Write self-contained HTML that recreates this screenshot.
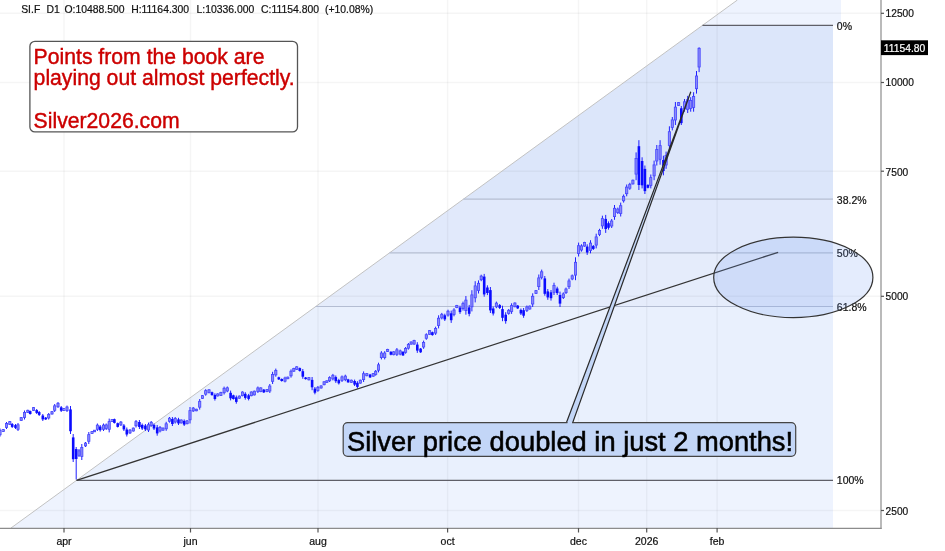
<!DOCTYPE html>
<html><head><meta charset="utf-8"><style>html,body{margin:0;padding:0;background:#fff;width:945px;height:551px;overflow:hidden;position:relative;font-family:"Liberation Sans", sans-serif}</style></head>
<body>
<svg width="945" height="551" viewBox="0 0 945 551" style="position:absolute;left:0;top:0;will-change:transform">
<rect width="945" height="551" fill="#ffffff"/>
<polygon points="737.40,0.00 841,0.00 841,25.40 702.46,25.40" fill="#eef3fe"/>
<polygon points="702.46,25.40 833,25.40 833,199.17 463.39,199.17" fill="#dce6fa"/>
<polygon points="463.39,199.17 833,199.17 833,252.85 389.54,252.85" fill="#e1e9fb"/>
<polygon points="389.54,252.85 833,252.85 833,306.53 315.69,306.53" fill="#e5ecfb"/>
<polygon points="315.69,306.53 833,306.53 833,480.30 76.62,480.30" fill="#e9f0fd"/>
<polygon points="76.62,480.30 833,480.30 833,528.00 11.00,528.00" fill="#eef3fe"/>
<line x1="64" y1="0" x2="64" y2="528" stroke="#000" stroke-opacity="0.04" stroke-width="1.5"/>
<line x1="190.5" y1="0" x2="190.5" y2="528" stroke="#000" stroke-opacity="0.04" stroke-width="1.5"/>
<line x1="318" y1="0" x2="318" y2="528" stroke="#000" stroke-opacity="0.04" stroke-width="1.5"/>
<line x1="447.6" y1="0" x2="447.6" y2="528" stroke="#000" stroke-opacity="0.04" stroke-width="1.5"/>
<line x1="578.5" y1="0" x2="578.5" y2="528" stroke="#000" stroke-opacity="0.04" stroke-width="1.5"/>
<line x1="646.7" y1="0" x2="646.7" y2="528" stroke="#000" stroke-opacity="0.04" stroke-width="1.5"/>
<line x1="717.1" y1="0" x2="717.1" y2="528" stroke="#000" stroke-opacity="0.04" stroke-width="1.5"/>
<line x1="0" y1="13.3" x2="881" y2="13.3" stroke="#000" stroke-opacity="0.04" stroke-width="1.5"/>
<line x1="0" y1="82.5" x2="881" y2="82.5" stroke="#000" stroke-opacity="0.04" stroke-width="1.5"/>
<line x1="0" y1="171.2" x2="881" y2="171.2" stroke="#000" stroke-opacity="0.04" stroke-width="1.5"/>
<line x1="0" y1="296.3" x2="881" y2="296.3" stroke="#000" stroke-opacity="0.04" stroke-width="1.5"/>
<line x1="0" y1="510.5" x2="881" y2="510.5" stroke="#000" stroke-opacity="0.04" stroke-width="1.5"/>
<line x1="11" y1="528" x2="737.4" y2="0" stroke="#c2c2c2" stroke-width="1"/>
<line x1="702.46" y1="25.40" x2="833" y2="25.40" stroke="#5f5f68" stroke-width="1.3"/>
<line x1="463.39" y1="199.17" x2="833" y2="199.17" stroke="#b4bdd2" stroke-width="1.1"/>
<line x1="389.54" y1="252.85" x2="833" y2="252.85" stroke="#b4bdd2" stroke-width="1.1"/>
<line x1="315.69" y1="306.53" x2="833" y2="306.53" stroke="#b4bdd2" stroke-width="1.1"/>
<line x1="76.62" y1="480.30" x2="833" y2="480.30" stroke="#5f5f68" stroke-width="1.3"/>
<line x1="0" y1="528.3" x2="881.6" y2="528.3" stroke="#8c8c8c" stroke-width="1.2"/>
<line x1="881" y1="0" x2="881" y2="528.9" stroke="#8c8c8c" stroke-width="1.2"/>
<line x1="64" y1="528" x2="64" y2="532.5" stroke="#555" stroke-width="1.2"/>
<line x1="190.5" y1="528" x2="190.5" y2="532.5" stroke="#555" stroke-width="1.2"/>
<line x1="318" y1="528" x2="318" y2="532.5" stroke="#555" stroke-width="1.2"/>
<line x1="447.6" y1="528" x2="447.6" y2="532.5" stroke="#555" stroke-width="1.2"/>
<line x1="578.5" y1="528" x2="578.5" y2="532.5" stroke="#555" stroke-width="1.2"/>
<line x1="646.7" y1="528" x2="646.7" y2="532.5" stroke="#555" stroke-width="1.2"/>
<line x1="717.1" y1="528" x2="717.1" y2="532.5" stroke="#555" stroke-width="1.2"/>
<line x1="881" y1="13.3" x2="884" y2="13.3" stroke="#555" stroke-width="1.2"/>
<line x1="881" y1="82.5" x2="884" y2="82.5" stroke="#555" stroke-width="1.2"/>
<line x1="881" y1="171.2" x2="884" y2="171.2" stroke="#555" stroke-width="1.2"/>
<line x1="881" y1="296.3" x2="884" y2="296.3" stroke="#555" stroke-width="1.2"/>
<line x1="881" y1="510.5" x2="884" y2="510.5" stroke="#555" stroke-width="1.2"/>
<line x1="0.0" y1="428.5" x2="0.0" y2="436.6" stroke="#1f1fff" stroke-width="1"/>
<rect x="-1.1" y="430.3" width="2.2" height="4.5" fill="#8a8af6" stroke="#4444ff" stroke-width="0.8"/>
<line x1="3.3" y1="429.0" x2="3.3" y2="432.0" stroke="#1f1fff" stroke-width="1"/>
<rect x="2.2" y="429.6" width="2.2" height="1.8" fill="#8a8af6" stroke="#4444ff" stroke-width="0.8"/>
<line x1="6.5" y1="422.0" x2="6.5" y2="429.0" stroke="#1f1fff" stroke-width="1"/>
<rect x="5.4" y="423.5" width="2.2" height="3.9" fill="#8a8af6" stroke="#4444ff" stroke-width="0.8"/>
<line x1="9.8" y1="421.0" x2="9.8" y2="425.0" stroke="#1f1fff" stroke-width="1"/>
<rect x="8.7" y="421.6" width="2.2" height="2.8" fill="#8a8af6" stroke="#4444ff" stroke-width="0.8"/>
<line x1="12.2" y1="423.0" x2="12.2" y2="428.0" stroke="#1f1fff" stroke-width="1"/>
<rect x="10.9" y="424.1" width="2.6" height="2.8" fill="#0b0bff"/>
<line x1="15.5" y1="424.0" x2="15.5" y2="429.0" stroke="#1f1fff" stroke-width="1"/>
<rect x="14.2" y="425.1" width="2.6" height="2.8" fill="#0b0bff"/>
<line x1="18.0" y1="423.0" x2="18.0" y2="431.0" stroke="#1f1fff" stroke-width="1"/>
<rect x="16.9" y="424.8" width="2.2" height="4.5" fill="#8a8af6" stroke="#4444ff" stroke-width="0.8"/>
<line x1="21.2" y1="417.0" x2="21.2" y2="421.0" stroke="#1f1fff" stroke-width="1"/>
<rect x="20.1" y="417.6" width="2.2" height="2.8" fill="#8a8af6" stroke="#4444ff" stroke-width="0.8"/>
<line x1="24.5" y1="410.5" x2="24.5" y2="419.5" stroke="#1f1fff" stroke-width="1"/>
<rect x="23.4" y="412.5" width="2.2" height="5.0" fill="#8a8af6" stroke="#4444ff" stroke-width="0.8"/>
<line x1="27.8" y1="409.7" x2="27.8" y2="413.0" stroke="#1f1fff" stroke-width="1"/>
<rect x="26.7" y="410.3" width="2.2" height="2.1" fill="#8a8af6" stroke="#4444ff" stroke-width="0.8"/>
<line x1="30.2" y1="410.5" x2="30.2" y2="414.6" stroke="#1f1fff" stroke-width="1"/>
<rect x="28.9" y="411.1" width="2.6" height="2.9" fill="#0b0bff"/>
<line x1="33.5" y1="407.0" x2="33.5" y2="411.0" stroke="#1f1fff" stroke-width="1"/>
<rect x="32.4" y="407.6" width="2.2" height="2.8" fill="#8a8af6" stroke="#4444ff" stroke-width="0.8"/>
<line x1="36.7" y1="409.0" x2="36.7" y2="414.0" stroke="#1f1fff" stroke-width="1"/>
<rect x="35.4" y="410.1" width="2.6" height="2.8" fill="#0b0bff"/>
<line x1="39.2" y1="411.0" x2="39.2" y2="416.0" stroke="#1f1fff" stroke-width="1"/>
<rect x="37.9" y="412.1" width="2.6" height="2.8" fill="#0b0bff"/>
<line x1="42.8" y1="414.0" x2="42.8" y2="421.0" stroke="#1f1fff" stroke-width="1"/>
<rect x="41.5" y="415.5" width="2.6" height="3.9" fill="#0b0bff"/>
<line x1="45.7" y1="417.0" x2="45.7" y2="420.0" stroke="#1f1fff" stroke-width="1"/>
<rect x="44.4" y="417.6" width="2.6" height="1.8" fill="#0b0bff"/>
<line x1="48.7" y1="413.0" x2="48.7" y2="419.5" stroke="#1f1fff" stroke-width="1"/>
<rect x="47.6" y="414.4" width="2.2" height="3.6" fill="#8a8af6" stroke="#4444ff" stroke-width="0.8"/>
<line x1="52.0" y1="411.0" x2="52.0" y2="414.6" stroke="#1f1fff" stroke-width="1"/>
<rect x="50.9" y="411.6" width="2.2" height="2.4" fill="#8a8af6" stroke="#4444ff" stroke-width="0.8"/>
<line x1="54.7" y1="404.0" x2="54.7" y2="412.0" stroke="#1f1fff" stroke-width="1"/>
<rect x="53.6" y="405.8" width="2.2" height="4.5" fill="#8a8af6" stroke="#4444ff" stroke-width="0.8"/>
<line x1="58.0" y1="402.0" x2="58.0" y2="408.0" stroke="#1f1fff" stroke-width="1"/>
<rect x="56.9" y="403.3" width="2.2" height="3.4" fill="#8a8af6" stroke="#4444ff" stroke-width="0.8"/>
<line x1="61.2" y1="406.0" x2="61.2" y2="412.0" stroke="#1f1fff" stroke-width="1"/>
<rect x="59.9" y="407.3" width="2.6" height="3.4" fill="#0b0bff"/>
<line x1="63.7" y1="408.0" x2="63.7" y2="411.0" stroke="#1f1fff" stroke-width="1"/>
<rect x="62.6" y="408.6" width="2.2" height="1.8" fill="#8a8af6" stroke="#4444ff" stroke-width="0.8"/>
<line x1="67.0" y1="405.6" x2="67.0" y2="412.0" stroke="#1f1fff" stroke-width="1"/>
<rect x="65.9" y="407.0" width="2.2" height="3.6" fill="#8a8af6" stroke="#4444ff" stroke-width="0.8"/>
<line x1="70.5" y1="406.0" x2="70.5" y2="434.0" stroke="#1f1fff" stroke-width="1"/>
<rect x="69.2" y="409.4" width="2.6" height="21.8" fill="#0b0bff"/>
<line x1="73.2" y1="434.0" x2="73.2" y2="462.0" stroke="#1f1fff" stroke-width="1"/>
<rect x="71.9" y="437.4" width="2.6" height="21.8" fill="#0b0bff"/>
<line x1="76.2" y1="447.0" x2="76.2" y2="479.5" stroke="#1f1fff" stroke-width="1"/>
<rect x="74.9" y="449.0" width="2.6" height="10.0" fill="#0b0bff"/>
<line x1="79.0" y1="449.0" x2="79.0" y2="457.0" stroke="#1f1fff" stroke-width="1"/>
<rect x="77.9" y="450.8" width="2.2" height="4.5" fill="#8a8af6" stroke="#4444ff" stroke-width="0.8"/>
<line x1="81.8" y1="444.0" x2="81.8" y2="460.0" stroke="#1f1fff" stroke-width="1"/>
<rect x="80.7" y="447.5" width="2.2" height="9.0" fill="#8a8af6" stroke="#4444ff" stroke-width="0.8"/>
<line x1="85.5" y1="442.0" x2="85.5" y2="447.0" stroke="#1f1fff" stroke-width="1"/>
<rect x="84.4" y="443.1" width="2.2" height="2.8" fill="#8a8af6" stroke="#4444ff" stroke-width="0.8"/>
<line x1="88.8" y1="432.0" x2="88.8" y2="444.0" stroke="#1f1fff" stroke-width="1"/>
<rect x="87.7" y="434.6" width="2.2" height="6.7" fill="#8a8af6" stroke="#4444ff" stroke-width="0.8"/>
<line x1="92.0" y1="431.0" x2="92.0" y2="434.0" stroke="#1f1fff" stroke-width="1"/>
<rect x="90.9" y="431.6" width="2.2" height="1.8" fill="#8a8af6" stroke="#4444ff" stroke-width="0.8"/>
<line x1="94.5" y1="430.0" x2="94.5" y2="432.0" stroke="#1f1fff" stroke-width="1"/>
<rect x="93.4" y="430.2" width="2.2" height="1.6" fill="#8a8af6" stroke="#4444ff" stroke-width="0.8"/>
<line x1="97.4" y1="423.5" x2="97.4" y2="431.0" stroke="#1f1fff" stroke-width="1"/>
<rect x="96.3" y="425.1" width="2.2" height="4.2" fill="#8a8af6" stroke="#4444ff" stroke-width="0.8"/>
<line x1="100.2" y1="425.0" x2="100.2" y2="431.6" stroke="#1f1fff" stroke-width="1"/>
<rect x="98.9" y="426.5" width="2.6" height="3.7" fill="#0b0bff"/>
<line x1="103.5" y1="423.5" x2="103.5" y2="431.0" stroke="#1f1fff" stroke-width="1"/>
<rect x="102.4" y="425.1" width="2.2" height="4.2" fill="#8a8af6" stroke="#4444ff" stroke-width="0.8"/>
<line x1="106.2" y1="423.5" x2="106.2" y2="430.0" stroke="#1f1fff" stroke-width="1"/>
<rect x="105.1" y="424.9" width="2.2" height="3.6" fill="#8a8af6" stroke="#4444ff" stroke-width="0.8"/>
<line x1="109.2" y1="418.6" x2="109.2" y2="432.4" stroke="#1f1fff" stroke-width="1"/>
<rect x="108.1" y="421.6" width="2.2" height="7.7" fill="#8a8af6" stroke="#4444ff" stroke-width="0.8"/>
<line x1="112.1" y1="419.0" x2="112.1" y2="422.0" stroke="#1f1fff" stroke-width="1"/>
<rect x="111.0" y="419.6" width="2.2" height="1.8" fill="#8a8af6" stroke="#4444ff" stroke-width="0.8"/>
<line x1="114.4" y1="418.6" x2="114.4" y2="423.5" stroke="#1f1fff" stroke-width="1"/>
<rect x="113.1" y="419.2" width="2.6" height="3.7" fill="#0b0bff"/>
<line x1="117.7" y1="422.6" x2="117.7" y2="427.5" stroke="#1f1fff" stroke-width="1"/>
<rect x="116.4" y="423.2" width="2.6" height="3.7" fill="#0b0bff"/>
<line x1="120.9" y1="421.0" x2="120.9" y2="426.0" stroke="#1f1fff" stroke-width="1"/>
<rect x="119.8" y="422.1" width="2.2" height="2.8" fill="#8a8af6" stroke="#4444ff" stroke-width="0.8"/>
<line x1="123.9" y1="424.0" x2="123.9" y2="431.0" stroke="#1f1fff" stroke-width="1"/>
<rect x="122.6" y="425.5" width="2.6" height="3.9" fill="#0b0bff"/>
<line x1="126.8" y1="427.5" x2="126.8" y2="436.5" stroke="#1f1fff" stroke-width="1"/>
<rect x="125.5" y="429.5" width="2.6" height="5.0" fill="#0b0bff"/>
<line x1="130.0" y1="429.0" x2="130.0" y2="434.0" stroke="#1f1fff" stroke-width="1"/>
<rect x="128.9" y="430.1" width="2.2" height="2.8" fill="#8a8af6" stroke="#4444ff" stroke-width="0.8"/>
<line x1="133.3" y1="427.5" x2="133.3" y2="431.6" stroke="#1f1fff" stroke-width="1"/>
<rect x="132.2" y="428.1" width="2.2" height="2.9" fill="#8a8af6" stroke="#4444ff" stroke-width="0.8"/>
<line x1="136.0" y1="420.0" x2="136.0" y2="427.5" stroke="#1f1fff" stroke-width="1"/>
<rect x="134.9" y="421.6" width="2.2" height="4.2" fill="#8a8af6" stroke="#4444ff" stroke-width="0.8"/>
<line x1="139.4" y1="420.0" x2="139.4" y2="429.0" stroke="#1f1fff" stroke-width="1"/>
<rect x="138.1" y="422.0" width="2.6" height="5.0" fill="#0b0bff"/>
<line x1="142.2" y1="423.5" x2="142.2" y2="430.0" stroke="#1f1fff" stroke-width="1"/>
<rect x="140.9" y="424.9" width="2.6" height="3.6" fill="#0b0bff"/>
<line x1="145.4" y1="424.0" x2="145.4" y2="431.0" stroke="#1f1fff" stroke-width="1"/>
<rect x="144.1" y="425.5" width="2.6" height="3.9" fill="#0b0bff"/>
<line x1="148.5" y1="422.6" x2="148.5" y2="432.0" stroke="#1f1fff" stroke-width="1"/>
<rect x="147.4" y="424.7" width="2.2" height="5.3" fill="#8a8af6" stroke="#4444ff" stroke-width="0.8"/>
<line x1="151.2" y1="421.0" x2="151.2" y2="426.7" stroke="#1f1fff" stroke-width="1"/>
<rect x="150.1" y="422.3" width="2.2" height="3.2" fill="#8a8af6" stroke="#4444ff" stroke-width="0.8"/>
<line x1="154.0" y1="423.5" x2="154.0" y2="430.0" stroke="#1f1fff" stroke-width="1"/>
<rect x="152.7" y="424.9" width="2.6" height="3.6" fill="#0b0bff"/>
<line x1="157.2" y1="425.0" x2="157.2" y2="435.7" stroke="#1f1fff" stroke-width="1"/>
<rect x="155.9" y="427.4" width="2.6" height="6.0" fill="#0b0bff"/>
<line x1="160.0" y1="426.0" x2="160.0" y2="432.4" stroke="#1f1fff" stroke-width="1"/>
<rect x="158.9" y="427.4" width="2.2" height="3.6" fill="#8a8af6" stroke="#4444ff" stroke-width="0.8"/>
<line x1="163.0" y1="427.5" x2="163.0" y2="430.8" stroke="#1f1fff" stroke-width="1"/>
<rect x="161.9" y="428.1" width="2.2" height="2.1" fill="#8a8af6" stroke="#4444ff" stroke-width="0.8"/>
<line x1="166.2" y1="421.8" x2="166.2" y2="430.8" stroke="#1f1fff" stroke-width="1"/>
<rect x="165.1" y="423.8" width="2.2" height="5.0" fill="#8a8af6" stroke="#4444ff" stroke-width="0.8"/>
<line x1="169.5" y1="417.0" x2="169.5" y2="422.6" stroke="#1f1fff" stroke-width="1"/>
<rect x="168.4" y="418.2" width="2.2" height="3.1" fill="#8a8af6" stroke="#4444ff" stroke-width="0.8"/>
<line x1="172.4" y1="417.0" x2="172.4" y2="426.0" stroke="#1f1fff" stroke-width="1"/>
<rect x="171.1" y="419.0" width="2.6" height="5.0" fill="#0b0bff"/>
<line x1="175.2" y1="417.0" x2="175.2" y2="423.5" stroke="#1f1fff" stroke-width="1"/>
<rect x="174.1" y="418.4" width="2.2" height="3.6" fill="#8a8af6" stroke="#4444ff" stroke-width="0.8"/>
<line x1="178.5" y1="417.8" x2="178.5" y2="425.0" stroke="#1f1fff" stroke-width="1"/>
<rect x="177.2" y="419.4" width="2.6" height="4.0" fill="#0b0bff"/>
<line x1="181.2" y1="419.4" x2="181.2" y2="423.5" stroke="#1f1fff" stroke-width="1"/>
<rect x="180.1" y="420.0" width="2.2" height="2.9" fill="#8a8af6" stroke="#4444ff" stroke-width="0.8"/>
<line x1="184.2" y1="419.4" x2="184.2" y2="426.0" stroke="#1f1fff" stroke-width="1"/>
<rect x="182.9" y="420.9" width="2.6" height="3.7" fill="#0b0bff"/>
<line x1="187.1" y1="420.2" x2="187.1" y2="424.3" stroke="#1f1fff" stroke-width="1"/>
<rect x="186.0" y="420.8" width="2.2" height="2.9" fill="#8a8af6" stroke="#4444ff" stroke-width="0.8"/>
<line x1="190.0" y1="407.0" x2="190.0" y2="423.5" stroke="#1f1fff" stroke-width="1"/>
<rect x="188.9" y="410.6" width="2.2" height="9.2" fill="#8a8af6" stroke="#4444ff" stroke-width="0.8"/>
<line x1="193.2" y1="407.0" x2="193.2" y2="412.0" stroke="#1f1fff" stroke-width="1"/>
<rect x="192.1" y="408.1" width="2.2" height="2.8" fill="#8a8af6" stroke="#4444ff" stroke-width="0.8"/>
<line x1="196.4" y1="408.8" x2="196.4" y2="411.2" stroke="#1f1fff" stroke-width="1"/>
<rect x="195.3" y="409.2" width="2.2" height="1.6" fill="#8a8af6" stroke="#4444ff" stroke-width="0.8"/>
<line x1="199.7" y1="399.0" x2="199.7" y2="409.6" stroke="#1f1fff" stroke-width="1"/>
<rect x="198.6" y="401.3" width="2.2" height="5.9" fill="#8a8af6" stroke="#4444ff" stroke-width="0.8"/>
<line x1="202.5" y1="395.0" x2="202.5" y2="399.0" stroke="#1f1fff" stroke-width="1"/>
<rect x="201.4" y="395.6" width="2.2" height="2.8" fill="#8a8af6" stroke="#4444ff" stroke-width="0.8"/>
<line x1="205.7" y1="389.2" x2="205.7" y2="395.7" stroke="#1f1fff" stroke-width="1"/>
<rect x="204.6" y="390.6" width="2.2" height="3.6" fill="#8a8af6" stroke="#4444ff" stroke-width="0.8"/>
<line x1="209.0" y1="389.2" x2="209.0" y2="393.3" stroke="#1f1fff" stroke-width="1"/>
<rect x="207.9" y="389.8" width="2.2" height="2.9" fill="#8a8af6" stroke="#4444ff" stroke-width="0.8"/>
<line x1="212.0" y1="391.6" x2="212.0" y2="395.7" stroke="#1f1fff" stroke-width="1"/>
<rect x="210.7" y="392.2" width="2.6" height="2.9" fill="#0b0bff"/>
<line x1="214.9" y1="393.3" x2="214.9" y2="400.6" stroke="#1f1fff" stroke-width="1"/>
<rect x="213.6" y="394.9" width="2.6" height="4.1" fill="#0b0bff"/>
<line x1="217.7" y1="393.3" x2="217.7" y2="396.5" stroke="#1f1fff" stroke-width="1"/>
<rect x="216.6" y="393.9" width="2.2" height="2.0" fill="#8a8af6" stroke="#4444ff" stroke-width="0.8"/>
<line x1="220.9" y1="391.8" x2="220.9" y2="396.0" stroke="#1f1fff" stroke-width="1"/>
<rect x="219.8" y="392.4" width="2.2" height="3.0" fill="#8a8af6" stroke="#4444ff" stroke-width="0.8"/>
<line x1="224.1" y1="386.6" x2="224.1" y2="394.5" stroke="#1f1fff" stroke-width="1"/>
<rect x="223.0" y="388.3" width="2.2" height="4.4" fill="#8a8af6" stroke="#4444ff" stroke-width="0.8"/>
<line x1="227.3" y1="386.5" x2="227.3" y2="392.2" stroke="#1f1fff" stroke-width="1"/>
<rect x="226.2" y="387.8" width="2.2" height="3.2" fill="#8a8af6" stroke="#4444ff" stroke-width="0.8"/>
<line x1="230.6" y1="390.6" x2="230.6" y2="400.4" stroke="#1f1fff" stroke-width="1"/>
<rect x="229.3" y="392.8" width="2.6" height="5.5" fill="#0b0bff"/>
<line x1="233.4" y1="394.7" x2="233.4" y2="399.6" stroke="#1f1fff" stroke-width="1"/>
<rect x="232.1" y="395.3" width="2.6" height="3.7" fill="#0b0bff"/>
<line x1="236.3" y1="395.5" x2="236.3" y2="403.7" stroke="#1f1fff" stroke-width="1"/>
<rect x="235.0" y="397.3" width="2.6" height="4.6" fill="#0b0bff"/>
<line x1="239.3" y1="395.5" x2="239.3" y2="398.8" stroke="#1f1fff" stroke-width="1"/>
<rect x="238.2" y="396.1" width="2.2" height="2.1" fill="#8a8af6" stroke="#4444ff" stroke-width="0.8"/>
<line x1="242.5" y1="391.4" x2="242.5" y2="396.3" stroke="#1f1fff" stroke-width="1"/>
<rect x="241.4" y="392.0" width="2.2" height="3.7" fill="#8a8af6" stroke="#4444ff" stroke-width="0.8"/>
<line x1="245.3" y1="392.2" x2="245.3" y2="399.6" stroke="#1f1fff" stroke-width="1"/>
<rect x="244.0" y="393.8" width="2.6" height="4.1" fill="#0b0bff"/>
<line x1="248.6" y1="393.9" x2="248.6" y2="400.4" stroke="#1f1fff" stroke-width="1"/>
<rect x="247.3" y="395.3" width="2.6" height="3.6" fill="#0b0bff"/>
<line x1="251.3" y1="391.4" x2="251.3" y2="396.3" stroke="#1f1fff" stroke-width="1"/>
<rect x="250.2" y="392.0" width="2.2" height="3.7" fill="#8a8af6" stroke="#4444ff" stroke-width="0.8"/>
<line x1="254.3" y1="390.6" x2="254.3" y2="395.5" stroke="#1f1fff" stroke-width="1"/>
<rect x="253.2" y="391.2" width="2.2" height="3.7" fill="#8a8af6" stroke="#4444ff" stroke-width="0.8"/>
<line x1="257.9" y1="386.5" x2="257.9" y2="393.0" stroke="#1f1fff" stroke-width="1"/>
<rect x="256.8" y="387.9" width="2.2" height="3.6" fill="#8a8af6" stroke="#4444ff" stroke-width="0.8"/>
<line x1="260.8" y1="387.3" x2="260.8" y2="392.2" stroke="#1f1fff" stroke-width="1"/>
<rect x="259.7" y="387.9" width="2.2" height="3.7" fill="#8a8af6" stroke="#4444ff" stroke-width="0.8"/>
<line x1="263.8" y1="389.0" x2="263.8" y2="393.0" stroke="#1f1fff" stroke-width="1"/>
<rect x="262.5" y="389.6" width="2.6" height="2.8" fill="#0b0bff"/>
<line x1="267.0" y1="389.0" x2="267.0" y2="392.2" stroke="#1f1fff" stroke-width="1"/>
<rect x="265.9" y="389.6" width="2.2" height="2.0" fill="#8a8af6" stroke="#4444ff" stroke-width="0.8"/>
<line x1="269.8" y1="384.0" x2="269.8" y2="393.0" stroke="#1f1fff" stroke-width="1"/>
<rect x="268.7" y="386.0" width="2.2" height="5.0" fill="#8a8af6" stroke="#4444ff" stroke-width="0.8"/>
<line x1="272.6" y1="371.8" x2="272.6" y2="384.0" stroke="#1f1fff" stroke-width="1"/>
<rect x="271.5" y="374.5" width="2.2" height="6.8" fill="#8a8af6" stroke="#4444ff" stroke-width="0.8"/>
<line x1="275.8" y1="368.6" x2="275.8" y2="376.7" stroke="#1f1fff" stroke-width="1"/>
<rect x="274.7" y="370.4" width="2.2" height="4.5" fill="#8a8af6" stroke="#4444ff" stroke-width="0.8"/>
<line x1="278.8" y1="376.7" x2="278.8" y2="380.0" stroke="#1f1fff" stroke-width="1"/>
<rect x="277.5" y="377.3" width="2.6" height="2.1" fill="#0b0bff"/>
<line x1="281.7" y1="378.4" x2="281.7" y2="381.6" stroke="#1f1fff" stroke-width="1"/>
<rect x="280.4" y="379.0" width="2.6" height="2.0" fill="#0b0bff"/>
<line x1="285.0" y1="376.7" x2="285.0" y2="382.4" stroke="#1f1fff" stroke-width="1"/>
<rect x="283.9" y="378.0" width="2.2" height="3.2" fill="#8a8af6" stroke="#4444ff" stroke-width="0.8"/>
<line x1="287.8" y1="376.7" x2="287.8" y2="379.2" stroke="#1f1fff" stroke-width="1"/>
<rect x="286.7" y="377.1" width="2.2" height="1.6" fill="#8a8af6" stroke="#4444ff" stroke-width="0.8"/>
<line x1="291.0" y1="369.4" x2="291.0" y2="377.6" stroke="#1f1fff" stroke-width="1"/>
<rect x="289.9" y="371.2" width="2.2" height="4.6" fill="#8a8af6" stroke="#4444ff" stroke-width="0.8"/>
<line x1="293.8" y1="367.8" x2="293.8" y2="371.8" stroke="#1f1fff" stroke-width="1"/>
<rect x="292.7" y="368.4" width="2.2" height="2.8" fill="#8a8af6" stroke="#4444ff" stroke-width="0.8"/>
<line x1="296.7" y1="366.2" x2="296.7" y2="370.0" stroke="#1f1fff" stroke-width="1"/>
<rect x="295.6" y="366.8" width="2.2" height="2.6" fill="#8a8af6" stroke="#4444ff" stroke-width="0.8"/>
<line x1="299.8" y1="367.5" x2="299.8" y2="371.6" stroke="#1f1fff" stroke-width="1"/>
<rect x="298.5" y="368.1" width="2.6" height="2.9" fill="#0b0bff"/>
<line x1="302.8" y1="369.0" x2="302.8" y2="378.8" stroke="#1f1fff" stroke-width="1"/>
<rect x="301.5" y="371.2" width="2.6" height="5.5" fill="#0b0bff"/>
<line x1="305.6" y1="377.0" x2="305.6" y2="379.6" stroke="#1f1fff" stroke-width="1"/>
<rect x="304.3" y="377.5" width="2.6" height="1.6" fill="#0b0bff"/>
<line x1="308.9" y1="377.0" x2="308.9" y2="380.4" stroke="#1f1fff" stroke-width="1"/>
<rect x="307.8" y="377.6" width="2.2" height="2.2" fill="#8a8af6" stroke="#4444ff" stroke-width="0.8"/>
<line x1="312.1" y1="377.0" x2="312.1" y2="390.2" stroke="#1f1fff" stroke-width="1"/>
<rect x="310.8" y="379.9" width="2.6" height="7.4" fill="#0b0bff"/>
<line x1="314.9" y1="387.0" x2="314.9" y2="394.3" stroke="#1f1fff" stroke-width="1"/>
<rect x="313.6" y="388.6" width="2.6" height="4.1" fill="#0b0bff"/>
<line x1="317.9" y1="386.0" x2="317.9" y2="391.8" stroke="#1f1fff" stroke-width="1"/>
<rect x="316.8" y="387.3" width="2.2" height="3.2" fill="#8a8af6" stroke="#4444ff" stroke-width="0.8"/>
<line x1="321.1" y1="385.3" x2="321.1" y2="388.6" stroke="#1f1fff" stroke-width="1"/>
<rect x="320.0" y="385.9" width="2.2" height="2.1" fill="#8a8af6" stroke="#4444ff" stroke-width="0.8"/>
<line x1="324.1" y1="381.2" x2="324.1" y2="385.3" stroke="#1f1fff" stroke-width="1"/>
<rect x="323.0" y="381.8" width="2.2" height="2.9" fill="#8a8af6" stroke="#4444ff" stroke-width="0.8"/>
<line x1="326.8" y1="380.4" x2="326.8" y2="382.9" stroke="#1f1fff" stroke-width="1"/>
<rect x="325.7" y="380.8" width="2.2" height="1.6" fill="#8a8af6" stroke="#4444ff" stroke-width="0.8"/>
<line x1="329.6" y1="376.3" x2="329.6" y2="382.0" stroke="#1f1fff" stroke-width="1"/>
<rect x="328.5" y="377.6" width="2.2" height="3.2" fill="#8a8af6" stroke="#4444ff" stroke-width="0.8"/>
<line x1="332.9" y1="373.9" x2="332.9" y2="380.4" stroke="#1f1fff" stroke-width="1"/>
<rect x="331.8" y="375.3" width="2.2" height="3.6" fill="#8a8af6" stroke="#4444ff" stroke-width="0.8"/>
<line x1="335.8" y1="375.5" x2="335.8" y2="382.9" stroke="#1f1fff" stroke-width="1"/>
<rect x="334.5" y="377.1" width="2.6" height="4.1" fill="#0b0bff"/>
<line x1="338.8" y1="378.8" x2="338.8" y2="384.5" stroke="#1f1fff" stroke-width="1"/>
<rect x="337.5" y="380.1" width="2.6" height="3.2" fill="#0b0bff"/>
<line x1="342.0" y1="375.5" x2="342.0" y2="382.0" stroke="#1f1fff" stroke-width="1"/>
<rect x="340.9" y="376.9" width="2.2" height="3.6" fill="#8a8af6" stroke="#4444ff" stroke-width="0.8"/>
<line x1="345.3" y1="374.7" x2="345.3" y2="381.2" stroke="#1f1fff" stroke-width="1"/>
<rect x="344.2" y="376.1" width="2.2" height="3.6" fill="#8a8af6" stroke="#4444ff" stroke-width="0.8"/>
<line x1="348.1" y1="378.8" x2="348.1" y2="382.9" stroke="#1f1fff" stroke-width="1"/>
<rect x="346.8" y="379.4" width="2.6" height="2.9" fill="#0b0bff"/>
<line x1="351.3" y1="379.6" x2="351.3" y2="382.9" stroke="#1f1fff" stroke-width="1"/>
<rect x="350.2" y="380.2" width="2.2" height="2.1" fill="#8a8af6" stroke="#4444ff" stroke-width="0.8"/>
<line x1="354.6" y1="379.6" x2="354.6" y2="386.0" stroke="#1f1fff" stroke-width="1"/>
<rect x="353.3" y="381.0" width="2.6" height="3.6" fill="#0b0bff"/>
<line x1="357.4" y1="381.2" x2="357.4" y2="388.6" stroke="#1f1fff" stroke-width="1"/>
<rect x="356.1" y="382.8" width="2.6" height="4.1" fill="#0b0bff"/>
<line x1="360.3" y1="379.6" x2="360.3" y2="383.7" stroke="#1f1fff" stroke-width="1"/>
<rect x="359.2" y="380.2" width="2.2" height="2.9" fill="#8a8af6" stroke="#4444ff" stroke-width="0.8"/>
<line x1="363.6" y1="371.4" x2="363.6" y2="382.0" stroke="#1f1fff" stroke-width="1"/>
<rect x="362.5" y="373.7" width="2.2" height="5.9" fill="#8a8af6" stroke="#4444ff" stroke-width="0.8"/>
<line x1="366.8" y1="373.0" x2="366.8" y2="376.3" stroke="#1f1fff" stroke-width="1"/>
<rect x="365.7" y="373.6" width="2.2" height="2.1" fill="#8a8af6" stroke="#4444ff" stroke-width="0.8"/>
<line x1="370.1" y1="373.9" x2="370.1" y2="378.0" stroke="#1f1fff" stroke-width="1"/>
<rect x="368.8" y="374.5" width="2.6" height="2.9" fill="#0b0bff"/>
<line x1="373.2" y1="373.0" x2="373.2" y2="376.8" stroke="#1f1fff" stroke-width="1"/>
<rect x="372.1" y="373.6" width="2.2" height="2.6" fill="#8a8af6" stroke="#4444ff" stroke-width="0.8"/>
<line x1="375.7" y1="370.0" x2="375.7" y2="375.7" stroke="#1f1fff" stroke-width="1"/>
<rect x="374.6" y="371.3" width="2.2" height="3.2" fill="#8a8af6" stroke="#4444ff" stroke-width="0.8"/>
<line x1="378.5" y1="362.7" x2="378.5" y2="372.4" stroke="#1f1fff" stroke-width="1"/>
<rect x="377.4" y="364.8" width="2.2" height="5.4" fill="#8a8af6" stroke="#4444ff" stroke-width="0.8"/>
<line x1="381.4" y1="351.2" x2="381.4" y2="359.4" stroke="#1f1fff" stroke-width="1"/>
<rect x="380.3" y="353.0" width="2.2" height="4.6" fill="#8a8af6" stroke="#4444ff" stroke-width="0.8"/>
<line x1="384.7" y1="351.2" x2="384.7" y2="359.4" stroke="#1f1fff" stroke-width="1"/>
<rect x="383.6" y="353.0" width="2.2" height="4.6" fill="#8a8af6" stroke="#4444ff" stroke-width="0.8"/>
<line x1="387.6" y1="348.8" x2="387.6" y2="352.0" stroke="#1f1fff" stroke-width="1"/>
<rect x="386.5" y="349.4" width="2.2" height="2.0" fill="#8a8af6" stroke="#4444ff" stroke-width="0.8"/>
<line x1="390.9" y1="351.2" x2="390.9" y2="355.3" stroke="#1f1fff" stroke-width="1"/>
<rect x="389.6" y="351.8" width="2.6" height="2.9" fill="#0b0bff"/>
<line x1="393.7" y1="351.2" x2="393.7" y2="355.3" stroke="#1f1fff" stroke-width="1"/>
<rect x="392.6" y="351.8" width="2.2" height="2.9" fill="#8a8af6" stroke="#4444ff" stroke-width="0.8"/>
<line x1="396.9" y1="348.0" x2="396.9" y2="356.0" stroke="#1f1fff" stroke-width="1"/>
<rect x="395.8" y="349.8" width="2.2" height="4.5" fill="#8a8af6" stroke="#4444ff" stroke-width="0.8"/>
<line x1="400.2" y1="349.6" x2="400.2" y2="355.3" stroke="#1f1fff" stroke-width="1"/>
<rect x="399.1" y="350.9" width="2.2" height="3.2" fill="#8a8af6" stroke="#4444ff" stroke-width="0.8"/>
<line x1="403.0" y1="351.2" x2="403.0" y2="356.0" stroke="#1f1fff" stroke-width="1"/>
<rect x="401.7" y="351.8" width="2.6" height="3.6" fill="#0b0bff"/>
<line x1="405.6" y1="347.0" x2="405.6" y2="353.7" stroke="#1f1fff" stroke-width="1"/>
<rect x="404.5" y="348.5" width="2.2" height="3.8" fill="#8a8af6" stroke="#4444ff" stroke-width="0.8"/>
<line x1="408.4" y1="343.0" x2="408.4" y2="349.6" stroke="#1f1fff" stroke-width="1"/>
<rect x="407.3" y="344.5" width="2.2" height="3.7" fill="#8a8af6" stroke="#4444ff" stroke-width="0.8"/>
<line x1="411.1" y1="341.4" x2="411.1" y2="344.7" stroke="#1f1fff" stroke-width="1"/>
<rect x="410.0" y="342.0" width="2.2" height="2.1" fill="#8a8af6" stroke="#4444ff" stroke-width="0.8"/>
<line x1="414.1" y1="339.8" x2="414.1" y2="344.7" stroke="#1f1fff" stroke-width="1"/>
<rect x="413.0" y="340.4" width="2.2" height="3.7" fill="#8a8af6" stroke="#4444ff" stroke-width="0.8"/>
<line x1="417.3" y1="342.2" x2="417.3" y2="352.9" stroke="#1f1fff" stroke-width="1"/>
<rect x="416.0" y="344.6" width="2.6" height="6.0" fill="#0b0bff"/>
<line x1="420.6" y1="348.0" x2="420.6" y2="352.9" stroke="#1f1fff" stroke-width="1"/>
<rect x="419.3" y="348.6" width="2.6" height="3.7" fill="#0b0bff"/>
<line x1="423.6" y1="340.6" x2="423.6" y2="348.8" stroke="#1f1fff" stroke-width="1"/>
<rect x="422.5" y="342.4" width="2.2" height="4.6" fill="#8a8af6" stroke="#4444ff" stroke-width="0.8"/>
<line x1="426.3" y1="333.3" x2="426.3" y2="339.8" stroke="#1f1fff" stroke-width="1"/>
<rect x="425.2" y="334.7" width="2.2" height="3.6" fill="#8a8af6" stroke="#4444ff" stroke-width="0.8"/>
<line x1="429.6" y1="330.0" x2="429.6" y2="334.9" stroke="#1f1fff" stroke-width="1"/>
<rect x="428.5" y="330.6" width="2.2" height="3.7" fill="#8a8af6" stroke="#4444ff" stroke-width="0.8"/>
<line x1="432.4" y1="331.6" x2="432.4" y2="335.7" stroke="#1f1fff" stroke-width="1"/>
<rect x="431.1" y="332.2" width="2.6" height="2.9" fill="#0b0bff"/>
<line x1="435.6" y1="326.7" x2="435.6" y2="334.9" stroke="#1f1fff" stroke-width="1"/>
<rect x="434.5" y="328.5" width="2.2" height="4.6" fill="#8a8af6" stroke="#4444ff" stroke-width="0.8"/>
<line x1="438.6" y1="315.3" x2="438.6" y2="328.4" stroke="#1f1fff" stroke-width="1"/>
<rect x="437.5" y="318.2" width="2.2" height="7.3" fill="#8a8af6" stroke="#4444ff" stroke-width="0.8"/>
<line x1="441.8" y1="312.9" x2="441.8" y2="319.4" stroke="#1f1fff" stroke-width="1"/>
<rect x="440.7" y="314.3" width="2.2" height="3.6" fill="#8a8af6" stroke="#4444ff" stroke-width="0.8"/>
<line x1="444.8" y1="313.7" x2="444.8" y2="321.0" stroke="#1f1fff" stroke-width="1"/>
<rect x="443.5" y="315.3" width="2.6" height="4.1" fill="#0b0bff"/>
<line x1="448.0" y1="309.7" x2="448.0" y2="316.6" stroke="#1f1fff" stroke-width="1"/>
<rect x="446.9" y="311.2" width="2.2" height="3.9" fill="#8a8af6" stroke="#4444ff" stroke-width="0.8"/>
<line x1="451.2" y1="310.6" x2="451.2" y2="322.9" stroke="#1f1fff" stroke-width="1"/>
<rect x="449.9" y="313.3" width="2.6" height="6.9" fill="#0b0bff"/>
<line x1="454.0" y1="308.2" x2="454.0" y2="316.3" stroke="#1f1fff" stroke-width="1"/>
<rect x="452.9" y="310.0" width="2.2" height="4.5" fill="#8a8af6" stroke="#4444ff" stroke-width="0.8"/>
<line x1="456.8" y1="304.9" x2="456.8" y2="308.2" stroke="#1f1fff" stroke-width="1"/>
<rect x="455.7" y="305.5" width="2.2" height="2.1" fill="#8a8af6" stroke="#4444ff" stroke-width="0.8"/>
<line x1="460.0" y1="305.7" x2="460.0" y2="313.9" stroke="#1f1fff" stroke-width="1"/>
<rect x="458.7" y="307.5" width="2.6" height="4.6" fill="#0b0bff"/>
<line x1="463.0" y1="301.6" x2="463.0" y2="310.6" stroke="#1f1fff" stroke-width="1"/>
<rect x="461.9" y="303.6" width="2.2" height="5.0" fill="#8a8af6" stroke="#4444ff" stroke-width="0.8"/>
<line x1="465.9" y1="296.0" x2="465.9" y2="314.7" stroke="#1f1fff" stroke-width="1"/>
<rect x="464.8" y="300.1" width="2.2" height="10.5" fill="#8a8af6" stroke="#4444ff" stroke-width="0.8"/>
<line x1="469.2" y1="304.9" x2="469.2" y2="316.3" stroke="#1f1fff" stroke-width="1"/>
<rect x="467.9" y="307.4" width="2.6" height="6.4" fill="#0b0bff"/>
<line x1="471.9" y1="290.2" x2="471.9" y2="311.4" stroke="#1f1fff" stroke-width="1"/>
<rect x="470.8" y="294.9" width="2.2" height="11.9" fill="#8a8af6" stroke="#4444ff" stroke-width="0.8"/>
<line x1="475.2" y1="281.2" x2="475.2" y2="302.4" stroke="#1f1fff" stroke-width="1"/>
<rect x="474.1" y="285.9" width="2.2" height="11.9" fill="#8a8af6" stroke="#4444ff" stroke-width="0.8"/>
<line x1="478.5" y1="280.4" x2="478.5" y2="293.5" stroke="#1f1fff" stroke-width="1"/>
<rect x="477.4" y="283.3" width="2.2" height="7.3" fill="#8a8af6" stroke="#4444ff" stroke-width="0.8"/>
<line x1="481.2" y1="274.7" x2="481.2" y2="281.2" stroke="#1f1fff" stroke-width="1"/>
<rect x="480.1" y="276.1" width="2.2" height="3.6" fill="#8a8af6" stroke="#4444ff" stroke-width="0.8"/>
<line x1="484.2" y1="273.9" x2="484.2" y2="296.7" stroke="#1f1fff" stroke-width="1"/>
<rect x="482.9" y="276.6" width="2.6" height="17.8" fill="#0b0bff"/>
<line x1="487.4" y1="285.3" x2="487.4" y2="295.1" stroke="#1f1fff" stroke-width="1"/>
<rect x="486.1" y="287.5" width="2.6" height="5.5" fill="#0b0bff"/>
<line x1="490.4" y1="287.0" x2="490.4" y2="313.0" stroke="#1f1fff" stroke-width="1"/>
<rect x="489.1" y="290.1" width="2.6" height="20.3" fill="#0b0bff"/>
<line x1="493.2" y1="306.5" x2="493.2" y2="315.5" stroke="#1f1fff" stroke-width="1"/>
<rect x="491.9" y="308.5" width="2.6" height="5.0" fill="#0b0bff"/>
<line x1="496.4" y1="301.6" x2="496.4" y2="308.2" stroke="#1f1fff" stroke-width="1"/>
<rect x="495.3" y="303.1" width="2.2" height="3.7" fill="#8a8af6" stroke="#4444ff" stroke-width="0.8"/>
<line x1="499.7" y1="304.0" x2="499.7" y2="309.0" stroke="#1f1fff" stroke-width="1"/>
<rect x="498.4" y="305.1" width="2.6" height="2.8" fill="#0b0bff"/>
<line x1="502.5" y1="305.7" x2="502.5" y2="321.2" stroke="#1f1fff" stroke-width="1"/>
<rect x="501.2" y="309.1" width="2.6" height="8.7" fill="#0b0bff"/>
<line x1="505.7" y1="312.2" x2="505.7" y2="323.7" stroke="#1f1fff" stroke-width="1"/>
<rect x="504.4" y="314.7" width="2.6" height="6.4" fill="#0b0bff"/>
<line x1="508.7" y1="309.0" x2="508.7" y2="314.7" stroke="#1f1fff" stroke-width="1"/>
<rect x="507.6" y="310.3" width="2.2" height="3.2" fill="#8a8af6" stroke="#4444ff" stroke-width="0.8"/>
<line x1="511.6" y1="303.3" x2="511.6" y2="313.9" stroke="#1f1fff" stroke-width="1"/>
<rect x="510.5" y="305.6" width="2.2" height="5.9" fill="#8a8af6" stroke="#4444ff" stroke-width="0.8"/>
<line x1="514.9" y1="302.4" x2="514.9" y2="307.3" stroke="#1f1fff" stroke-width="1"/>
<rect x="513.8" y="303.0" width="2.2" height="3.7" fill="#8a8af6" stroke="#4444ff" stroke-width="0.8"/>
<line x1="517.7" y1="305.0" x2="517.7" y2="309.0" stroke="#1f1fff" stroke-width="1"/>
<rect x="516.4" y="305.6" width="2.6" height="2.8" fill="#0b0bff"/>
<line x1="520.9" y1="308.5" x2="520.9" y2="315.0" stroke="#1f1fff" stroke-width="1"/>
<rect x="519.6" y="309.9" width="2.6" height="3.6" fill="#0b0bff"/>
<line x1="523.6" y1="308.0" x2="523.6" y2="317.8" stroke="#1f1fff" stroke-width="1"/>
<rect x="522.3" y="310.2" width="2.6" height="5.5" fill="#0b0bff"/>
<line x1="526.9" y1="305.5" x2="526.9" y2="312.0" stroke="#1f1fff" stroke-width="1"/>
<rect x="525.8" y="306.9" width="2.2" height="3.6" fill="#8a8af6" stroke="#4444ff" stroke-width="0.8"/>
<line x1="529.8" y1="305.5" x2="529.8" y2="309.6" stroke="#1f1fff" stroke-width="1"/>
<rect x="528.7" y="306.1" width="2.2" height="2.9" fill="#8a8af6" stroke="#4444ff" stroke-width="0.8"/>
<line x1="532.7" y1="293.3" x2="532.7" y2="307.0" stroke="#1f1fff" stroke-width="1"/>
<rect x="531.6" y="296.3" width="2.2" height="7.7" fill="#8a8af6" stroke="#4444ff" stroke-width="0.8"/>
<line x1="536.0" y1="290.0" x2="536.0" y2="294.0" stroke="#1f1fff" stroke-width="1"/>
<rect x="534.9" y="290.6" width="2.2" height="2.8" fill="#8a8af6" stroke="#4444ff" stroke-width="0.8"/>
<line x1="538.8" y1="274.5" x2="538.8" y2="290.0" stroke="#1f1fff" stroke-width="1"/>
<rect x="537.7" y="277.9" width="2.2" height="8.7" fill="#8a8af6" stroke="#4444ff" stroke-width="0.8"/>
<line x1="541.7" y1="269.6" x2="541.7" y2="279.4" stroke="#1f1fff" stroke-width="1"/>
<rect x="540.6" y="271.8" width="2.2" height="5.5" fill="#8a8af6" stroke="#4444ff" stroke-width="0.8"/>
<line x1="544.8" y1="276.0" x2="544.8" y2="295.7" stroke="#1f1fff" stroke-width="1"/>
<rect x="543.5" y="278.4" width="2.6" height="15.4" fill="#0b0bff"/>
<line x1="547.8" y1="289.0" x2="547.8" y2="299.8" stroke="#1f1fff" stroke-width="1"/>
<rect x="546.5" y="291.4" width="2.6" height="6.0" fill="#0b0bff"/>
<line x1="551.0" y1="290.0" x2="551.0" y2="300.6" stroke="#1f1fff" stroke-width="1"/>
<rect x="549.7" y="292.3" width="2.6" height="5.9" fill="#0b0bff"/>
<line x1="554.0" y1="282.7" x2="554.0" y2="295.0" stroke="#1f1fff" stroke-width="1"/>
<rect x="552.9" y="285.4" width="2.2" height="6.9" fill="#8a8af6" stroke="#4444ff" stroke-width="0.8"/>
<line x1="557.2" y1="286.7" x2="557.2" y2="295.0" stroke="#1f1fff" stroke-width="1"/>
<rect x="555.9" y="288.5" width="2.6" height="4.6" fill="#0b0bff"/>
<line x1="560.0" y1="291.6" x2="560.0" y2="307.0" stroke="#1f1fff" stroke-width="1"/>
<rect x="558.7" y="295.0" width="2.6" height="8.6" fill="#0b0bff"/>
<line x1="563.3" y1="292.4" x2="563.3" y2="299.0" stroke="#1f1fff" stroke-width="1"/>
<rect x="562.2" y="293.9" width="2.2" height="3.7" fill="#8a8af6" stroke="#4444ff" stroke-width="0.8"/>
<line x1="566.0" y1="287.6" x2="566.0" y2="294.0" stroke="#1f1fff" stroke-width="1"/>
<rect x="564.9" y="289.0" width="2.2" height="3.6" fill="#8a8af6" stroke="#4444ff" stroke-width="0.8"/>
<line x1="569.0" y1="278.6" x2="569.0" y2="289.0" stroke="#1f1fff" stroke-width="1"/>
<rect x="567.9" y="280.9" width="2.2" height="5.8" fill="#8a8af6" stroke="#4444ff" stroke-width="0.8"/>
<line x1="572.2" y1="274.5" x2="572.2" y2="280.2" stroke="#1f1fff" stroke-width="1"/>
<rect x="571.1" y="275.8" width="2.2" height="3.2" fill="#8a8af6" stroke="#4444ff" stroke-width="0.8"/>
<line x1="575.5" y1="257.3" x2="575.5" y2="280.2" stroke="#1f1fff" stroke-width="1"/>
<rect x="574.4" y="262.3" width="2.2" height="12.8" fill="#8a8af6" stroke="#4444ff" stroke-width="0.8"/>
<line x1="578.6" y1="242.6" x2="578.6" y2="256.5" stroke="#1f1fff" stroke-width="1"/>
<rect x="577.5" y="245.7" width="2.2" height="7.8" fill="#8a8af6" stroke="#4444ff" stroke-width="0.8"/>
<line x1="581.5" y1="244.3" x2="581.5" y2="251.6" stroke="#1f1fff" stroke-width="1"/>
<rect x="580.4" y="245.9" width="2.2" height="4.1" fill="#8a8af6" stroke="#4444ff" stroke-width="0.8"/>
<line x1="584.5" y1="241.8" x2="584.5" y2="246.7" stroke="#1f1fff" stroke-width="1"/>
<rect x="583.4" y="242.4" width="2.2" height="3.7" fill="#8a8af6" stroke="#4444ff" stroke-width="0.8"/>
<line x1="587.2" y1="244.3" x2="587.2" y2="254.9" stroke="#1f1fff" stroke-width="1"/>
<rect x="585.9" y="246.6" width="2.6" height="5.9" fill="#0b0bff"/>
<line x1="590.5" y1="240.2" x2="590.5" y2="253.3" stroke="#1f1fff" stroke-width="1"/>
<rect x="589.4" y="243.1" width="2.2" height="7.3" fill="#8a8af6" stroke="#4444ff" stroke-width="0.8"/>
<line x1="593.3" y1="245.0" x2="593.3" y2="250.0" stroke="#1f1fff" stroke-width="1"/>
<rect x="592.0" y="246.1" width="2.6" height="2.8" fill="#0b0bff"/>
<line x1="596.2" y1="233.7" x2="596.2" y2="248.4" stroke="#1f1fff" stroke-width="1"/>
<rect x="595.1" y="236.9" width="2.2" height="8.2" fill="#8a8af6" stroke="#4444ff" stroke-width="0.8"/>
<line x1="599.5" y1="228.8" x2="599.5" y2="236.1" stroke="#1f1fff" stroke-width="1"/>
<rect x="598.4" y="230.4" width="2.2" height="4.1" fill="#8a8af6" stroke="#4444ff" stroke-width="0.8"/>
<line x1="602.4" y1="215.7" x2="602.4" y2="228.8" stroke="#1f1fff" stroke-width="1"/>
<rect x="601.3" y="218.6" width="2.2" height="7.3" fill="#8a8af6" stroke="#4444ff" stroke-width="0.8"/>
<line x1="605.7" y1="214.9" x2="605.7" y2="232.9" stroke="#1f1fff" stroke-width="1"/>
<rect x="604.4" y="218.9" width="2.6" height="10.1" fill="#0b0bff"/>
<line x1="608.5" y1="221.4" x2="608.5" y2="229.6" stroke="#1f1fff" stroke-width="1"/>
<rect x="607.2" y="223.2" width="2.6" height="4.6" fill="#0b0bff"/>
<line x1="611.7" y1="219.0" x2="611.7" y2="228.0" stroke="#1f1fff" stroke-width="1"/>
<rect x="610.6" y="221.0" width="2.2" height="5.0" fill="#8a8af6" stroke="#4444ff" stroke-width="0.8"/>
<line x1="614.5" y1="205.0" x2="614.5" y2="219.8" stroke="#1f1fff" stroke-width="1"/>
<rect x="613.4" y="208.3" width="2.2" height="8.3" fill="#8a8af6" stroke="#4444ff" stroke-width="0.8"/>
<line x1="617.8" y1="207.6" x2="617.8" y2="214.0" stroke="#1f1fff" stroke-width="1"/>
<rect x="616.7" y="209.0" width="2.2" height="3.6" fill="#8a8af6" stroke="#4444ff" stroke-width="0.8"/>
<line x1="620.7" y1="202.6" x2="620.7" y2="216.5" stroke="#1f1fff" stroke-width="1"/>
<rect x="619.6" y="205.7" width="2.2" height="7.8" fill="#8a8af6" stroke="#4444ff" stroke-width="0.8"/>
<line x1="623.6" y1="194.5" x2="623.6" y2="202.6" stroke="#1f1fff" stroke-width="1"/>
<rect x="622.5" y="196.3" width="2.2" height="4.5" fill="#8a8af6" stroke="#4444ff" stroke-width="0.8"/>
<line x1="626.7" y1="184.5" x2="626.7" y2="196.3" stroke="#1f1fff" stroke-width="1"/>
<rect x="625.6" y="187.1" width="2.2" height="6.6" fill="#8a8af6" stroke="#4444ff" stroke-width="0.8"/>
<line x1="629.8" y1="182.8" x2="629.8" y2="189.8" stroke="#1f1fff" stroke-width="1"/>
<rect x="628.7" y="184.3" width="2.2" height="3.9" fill="#8a8af6" stroke="#4444ff" stroke-width="0.8"/>
<line x1="632.9" y1="179.6" x2="632.9" y2="184.5" stroke="#1f1fff" stroke-width="1"/>
<rect x="631.8" y="180.2" width="2.2" height="3.7" fill="#8a8af6" stroke="#4444ff" stroke-width="0.8"/>
<line x1="636.1" y1="152.4" x2="636.1" y2="180.2" stroke="#1f1fff" stroke-width="1"/>
<rect x="635.0" y="158.5" width="2.2" height="15.6" fill="#8a8af6" stroke="#4444ff" stroke-width="0.8"/>
<line x1="638.9" y1="140.2" x2="638.9" y2="190.0" stroke="#1f1fff" stroke-width="1"/>
<rect x="637.6" y="146.2" width="2.6" height="38.8" fill="#0b0bff"/>
<line x1="642.1" y1="157.3" x2="642.1" y2="188.4" stroke="#1f1fff" stroke-width="1"/>
<rect x="640.8" y="161.0" width="2.6" height="24.3" fill="#0b0bff"/>
<line x1="644.9" y1="165.5" x2="644.9" y2="194.0" stroke="#1f1fff" stroke-width="1"/>
<rect x="643.6" y="168.9" width="2.6" height="22.2" fill="#0b0bff"/>
<line x1="647.9" y1="184.3" x2="647.9" y2="188.4" stroke="#1f1fff" stroke-width="1"/>
<rect x="646.6" y="184.9" width="2.6" height="2.9" fill="#0b0bff"/>
<line x1="650.8" y1="174.5" x2="650.8" y2="188.4" stroke="#1f1fff" stroke-width="1"/>
<rect x="649.7" y="177.6" width="2.2" height="7.8" fill="#8a8af6" stroke="#4444ff" stroke-width="0.8"/>
<line x1="654.1" y1="160.6" x2="654.1" y2="180.2" stroke="#1f1fff" stroke-width="1"/>
<rect x="653.0" y="164.9" width="2.2" height="11.0" fill="#8a8af6" stroke="#4444ff" stroke-width="0.8"/>
<line x1="656.8" y1="145.0" x2="656.8" y2="165.5" stroke="#1f1fff" stroke-width="1"/>
<rect x="655.7" y="149.5" width="2.2" height="11.5" fill="#8a8af6" stroke="#4444ff" stroke-width="0.8"/>
<line x1="660.1" y1="140.2" x2="660.1" y2="164.7" stroke="#1f1fff" stroke-width="1"/>
<rect x="659.0" y="145.6" width="2.2" height="13.7" fill="#8a8af6" stroke="#4444ff" stroke-width="0.8"/>
<line x1="663.4" y1="155.7" x2="663.4" y2="175.3" stroke="#1f1fff" stroke-width="1"/>
<rect x="662.1" y="160.0" width="2.6" height="11.0" fill="#0b0bff"/>
<line x1="666.1" y1="151.6" x2="666.1" y2="168.8" stroke="#1f1fff" stroke-width="1"/>
<rect x="665.0" y="155.4" width="2.2" height="9.6" fill="#8a8af6" stroke="#4444ff" stroke-width="0.8"/>
<line x1="669.4" y1="126.3" x2="669.4" y2="150.8" stroke="#1f1fff" stroke-width="1"/>
<rect x="668.3" y="131.7" width="2.2" height="13.7" fill="#8a8af6" stroke="#4444ff" stroke-width="0.8"/>
<line x1="672.3" y1="117.0" x2="672.3" y2="130.4" stroke="#1f1fff" stroke-width="1"/>
<rect x="671.2" y="119.9" width="2.2" height="7.5" fill="#8a8af6" stroke="#4444ff" stroke-width="0.8"/>
<line x1="675.4" y1="102.0" x2="675.4" y2="125.0" stroke="#1f1fff" stroke-width="1"/>
<rect x="674.3" y="107.1" width="2.2" height="12.9" fill="#8a8af6" stroke="#4444ff" stroke-width="0.8"/>
<line x1="678.6" y1="102.0" x2="678.6" y2="106.0" stroke="#1f1fff" stroke-width="1"/>
<rect x="677.5" y="102.6" width="2.2" height="2.8" fill="#8a8af6" stroke="#4444ff" stroke-width="0.8"/>
<line x1="681.3" y1="106.0" x2="681.3" y2="125.0" stroke="#1f1fff" stroke-width="1"/>
<rect x="680.0" y="108.3" width="2.6" height="14.8" fill="#0b0bff"/>
<line x1="684.5" y1="99.0" x2="684.5" y2="111.7" stroke="#1f1fff" stroke-width="1"/>
<rect x="683.4" y="101.8" width="2.2" height="7.1" fill="#8a8af6" stroke="#4444ff" stroke-width="0.8"/>
<line x1="687.7" y1="95.9" x2="687.7" y2="113.0" stroke="#1f1fff" stroke-width="1"/>
<rect x="686.6" y="99.7" width="2.2" height="9.6" fill="#8a8af6" stroke="#4444ff" stroke-width="0.8"/>
<line x1="690.7" y1="97.2" x2="690.7" y2="111.7" stroke="#1f1fff" stroke-width="1"/>
<rect x="689.6" y="100.4" width="2.2" height="8.1" fill="#8a8af6" stroke="#4444ff" stroke-width="0.8"/>
<line x1="693.6" y1="92.2" x2="693.6" y2="111.7" stroke="#1f1fff" stroke-width="1"/>
<rect x="692.5" y="96.5" width="2.2" height="10.9" fill="#8a8af6" stroke="#4444ff" stroke-width="0.8"/>
<line x1="696.5" y1="71.0" x2="696.5" y2="93.6" stroke="#1f1fff" stroke-width="1"/>
<rect x="695.4" y="76.0" width="2.2" height="12.7" fill="#8a8af6" stroke="#4444ff" stroke-width="0.8"/>
<line x1="699.1" y1="47.3" x2="699.1" y2="72.1" stroke="#1f1fff" stroke-width="1"/>
<rect x="698.0" y="48.3" width="2.2" height="18.7" fill="#8a8af6" stroke="#4444ff" stroke-width="0.8"/>
<line x1="76.5" y1="480.3" x2="778.1" y2="252.3" stroke="#333" stroke-width="1.3"/>
<polygon points="566.3,423 690.8,91.8 572.6,423" fill="#c3d6f7" stroke="#2a2a2a" stroke-width="1.2" stroke-linejoin="miter"/>
<rect x="343.2" y="422.6" width="452.5" height="33.7" rx="4.5" ry="4.5" fill="#c3d6f7" stroke="#444" stroke-width="1.2"/>
<polygon points="567.3,424 572,424 572,421.5 567.8,421.5" fill="#c3d6f7"/>
<rect x="29.9" y="41.3" width="267.6" height="90.6" rx="5" ry="5" fill="#fff" stroke="#555" stroke-width="1.3"/>
<rect x="881" y="40.3" width="47" height="14.8" fill="#000"/>
<g font-family='"Liberation Sans", sans-serif'><text x="21.2" y="13.1" font-size="10.4" fill="#111" stroke="#111" stroke-width="0.21" text-anchor="start" >SI.F</text>
<text x="46.6" y="13.1" font-size="10.4" fill="#111" stroke="#111" stroke-width="0.21" text-anchor="start" >D1</text>
<text x="64.5" y="13.1" font-size="10.4" fill="#111" stroke="#111" stroke-width="0.21" text-anchor="start" >O:10488.500</text>
<text x="131.2" y="13.1" font-size="10.4" fill="#111" stroke="#111" stroke-width="0.21" text-anchor="start" >H:11164.300</text>
<text x="196.5" y="13.1" font-size="10.4" fill="#111" stroke="#111" stroke-width="0.21" text-anchor="start" >L:10336.000</text>
<text x="261" y="13.1" font-size="10.4" fill="#111" stroke="#111" stroke-width="0.21" text-anchor="start" >C:11154.800</text>
<text x="325" y="13.1" font-size="10.4" fill="#111" stroke="#111" stroke-width="0.21" text-anchor="start" >(+10.08%)</text>
<text x="33.6" y="64.2" font-size="21.2" fill="#cc0000" stroke="#cc0000" stroke-width="0.42" text-anchor="start" >Points from the book are</text>
<text x="33.6" y="85.4" font-size="21.2" fill="#cc0000" stroke="#cc0000" stroke-width="0.42" text-anchor="start" >playing out almost perfectly.</text>
<text x="33.6" y="127.8" font-size="21.2" fill="#cc0000" stroke="#cc0000" stroke-width="0.42" text-anchor="start" >Silver2026.com</text>
<text x="347" y="450.6" font-size="27.3" fill="#000" stroke="#000" stroke-width="0.55" text-anchor="start" >Silver price doubled in just 2 months!</text>
<text x="836.8" y="29.6" font-size="10.5" fill="#111" stroke="#111" stroke-width="0.21" text-anchor="start" >0%</text>
<text x="836.8" y="203.6" font-size="10.5" fill="#111" stroke="#111" stroke-width="0.21" text-anchor="start" >38.2%</text>
<text x="836.8" y="256.8" font-size="10.5" fill="#111" stroke="#111" stroke-width="0.21" text-anchor="start" >50%</text>
<text x="836.8" y="310.5" font-size="10.5" fill="#111" stroke="#111" stroke-width="0.21" text-anchor="start" >61.8%</text>
<text x="836.8" y="484.2" font-size="10.5" fill="#111" stroke="#111" stroke-width="0.21" text-anchor="start" >100%</text>
<text x="885.6" y="17.400000000000002" font-size="10.2" fill="#111" stroke="#111" stroke-width="0.20" text-anchor="start" >12500</text>
<text x="885.6" y="86.39999999999999" font-size="10.2" fill="#111" stroke="#111" stroke-width="0.20" text-anchor="start" >10000</text>
<text x="885.6" y="175.5" font-size="10.2" fill="#111" stroke="#111" stroke-width="0.20" text-anchor="start" >7500</text>
<text x="885.6" y="300.40000000000003" font-size="10.2" fill="#111" stroke="#111" stroke-width="0.20" text-anchor="start" >5000</text>
<text x="885.6" y="514.5" font-size="10.2" fill="#111" stroke="#111" stroke-width="0.20" text-anchor="start" >2500</text>
<text x="64" y="545.3" font-size="10.5" fill="#111" stroke="#111" stroke-width="0.21" text-anchor="middle" >apr</text>
<text x="190.5" y="545.3" font-size="10.5" fill="#111" stroke="#111" stroke-width="0.21" text-anchor="middle" >jun</text>
<text x="318" y="545.3" font-size="10.5" fill="#111" stroke="#111" stroke-width="0.21" text-anchor="middle" >aug</text>
<text x="447.6" y="545.3" font-size="10.5" fill="#111" stroke="#111" stroke-width="0.21" text-anchor="middle" >oct</text>
<text x="578.5" y="545.3" font-size="10.5" fill="#111" stroke="#111" stroke-width="0.21" text-anchor="middle" >dec</text>
<text x="646.7" y="545.3" font-size="10.5" fill="#111" stroke="#111" stroke-width="0.21" text-anchor="middle" >2026</text>
<text x="717.1" y="545.3" font-size="10.5" fill="#111" stroke="#111" stroke-width="0.21" text-anchor="middle" >feb</text>
<text x="883.8" y="51.6" font-size="10.3" fill="#fff" stroke="#fff" stroke-width="0.21" text-anchor="start" >11154.80</text></g>
<ellipse cx="793.3" cy="277.4" rx="79.6" ry="40.2" fill="rgb(110,155,245)" fill-opacity="0.19" stroke="#333" stroke-width="1.2"/>
</svg>
</body></html>
